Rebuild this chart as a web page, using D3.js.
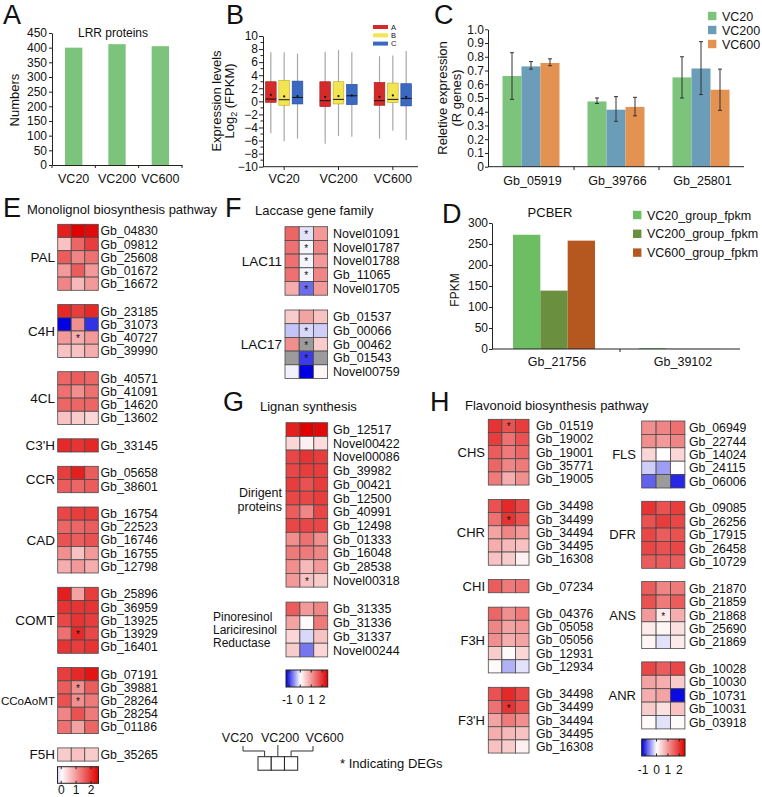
<!DOCTYPE html>
<html><head><meta charset="utf-8">
<script src="https://cdn.jsdelivr.net/npm/d3@7"></script>
<style>
body{margin:0;background:#fff}
svg{display:block}
text{font-family:"Liberation Sans",Arial,Helvetica,sans-serif;fill:#111}
</style>
</head><body>
<svg id="fig" width="762" height="797"></svg>
<script>
// ======================= DATA =======================
// Panel A
const lrrCategories = ["VC20", "VC200", "VC600"];
const lrrValues = [400, 412, 405];
const lrrTicks = [0, 50, 100, 150, 200, 250, 300, 350, 400, 450];

// Panel B: per group, per series [whiskerLow, q1, median, q3, whiskerHigh, mean]
const boxCategories = ["VC20", "VC200", "VC600"];
const boxSeries = ["A", "B", "C"];
const boxVC20 = [[-4.9, -0.15, 0.35, 3.0, 7.5, 1.0], [-6.1, -0.6, 0.25, 3.2, 7.5, 0.75], [-5.7, -0.4, 0.6, 3.1, 7.3, 0.8]];
const boxVC200 = [[-6.5, -0.8, 0.1, 3.0, 7.6, 0.7], [-5.3, -0.4, 0.3, 3.0, 7.9, 0.8], [-5.4, -0.5, 0.85, 2.6, 7.5, 0.9]];
const boxVC600 = [[-5.7, -0.6, 0.1, 2.9, 6.9, 0.7], [-4.5, -0.2, 0.3, 2.8, 7.0, 0.9], [-5.9, -0.7, 0.45, 2.7, 7.7, 0.7]];
const boxTicks = [-10, -8, -6, -4, -2, 0, 2, 4, 6, 8, 10];

// Panel C
const qpcrGenes = ["Gb_05919", "Gb_39766", "Gb_25801"];
const qpcrSeries = ["VC20", "VC200", "VC600"];
const qpcrMean = [[0.66, 0.73, 0.755], [0.475, 0.415, 0.435], [0.65, 0.715, 0.56]];
const qpcrLow = [[0.49, 0.71, 0.735], [0.46, 0.33, 0.37], [0.50, 0.525, 0.41]];
const qpcrHigh = [[0.83, 0.765, 0.785], [0.50, 0.51, 0.505], [0.80, 0.91, 0.71]];
const qpcrTicks = [0, 0.1, 0.2, 0.3, 0.4, 0.5, 0.6, 0.7, 0.8, 0.9, 1.0];

// Panel D
const pcberGenes = ["Gb_21756", "Gb_39102"];
const pcberSeries = ["VC20_group_fpkm", "VC200_group_fpkm", "VC600_group_fpkm"];
const pcberValues = [[272, 139, 258], [2, 0.4, 0.3]];
const pcberTicks = [0, 50, 100, 150, 200, 250, 300];

// Heatmaps: values are z-scores (null = NA), deg = [row, col] of DEG cells
const monolignol = [
  { family: "PAL", genes: ["Gb_04830", "Gb_09812", "Gb_25608", "Gb_01672", "Gb_16672"],
    values: [[2.2, 2.5, 2.4], [0.6, 1.5, 1.9], [1.6, 1.2, 1.4], [1.0, 1.6, 1.0], [1.2, 0.7, 1.0]], deg: [] },
  { family: "C4H", genes: ["Gb_23185", "Gb_31073", "Gb_40727", "Gb_39990"],
    values: [[2.1, 1.9, 2.1], [-1.6, 1.1, -1.05], [1.0, 0.8, 1.0], [0.6, 0.6, 0.8]], deg: [[2, 1]] },
  { family: "4CL", genes: ["Gb_40571", "Gb_41091", "Gb_14620", "Gb_13602"],
    values: [[1.5, 1.6, 1.5], [1.4, 1.1, 1.4], [1.5, 1.5, 1.5], [0.6, 0.5, 0.4]], deg: [] },
  { family: "C3'H", genes: ["Gb_33145"], values: [[2.1, 2.0, 2.1]], deg: [] },
  { family: "CCR", genes: ["Gb_05658", "Gb_38601"], values: [[1.9, 2.2, 1.6], [1.6, 1.5, 1.6]], deg: [] },
  { family: "CAD", genes: ["Gb_16754", "Gb_22523", "Gb_16746", "Gb_16755", "Gb_12798"],
    values: [[1.8, 1.9, 1.9], [1.5, 1.5, 1.6], [1.7, 1.6, 1.7], [1.1, 0.6, 1.0], [0.8, 1.0, 0.8]], deg: [] },
  { family: "COMT", genes: ["Gb_25896", "Gb_36959", "Gb_13925", "Gb_13929", "Gb_16401"],
    values: [[2.2, 0.9, 1.9], [2.0, 2.0, 2.0], [1.8, 2.0, 1.9], [1.4, 2.1, 1.8], [2.0, 1.9, 2.0]], deg: [[3, 1]] },
  { family: "CCoAoMT", genes: ["Gb_07191", "Gb_39881", "Gb_28264", "Gb_28254", "Gb_01186"],
    values: [[1.9, 2.1, 2.3], [1.6, 1.1, 1.6], [1.7, 1.1, 1.3], [1.2, 1.7, 1.3], [1.4, 0.9, 1.5]], deg: [[1, 1], [2, 1]] },
  { family: "F5H", genes: ["Gb_35265"], values: [[0.5, 0.6, 0.5]], deg: [] }
];

const laccase = [
  { family: "LAC11", genes: ["Novel01091", "Novel01787", "Novel01788", "Gb_11065", "Novel01705"],
    values: [[1.5, -0.15, 1.0], [1.4, -0.05, 1.2], [1.4, -0.05, 1.0], [1.4, -0.05, 1.2], [0.8, -0.75, 1.0]],
    deg: [[0, 1], [1, 1], [2, 1], [3, 1], [4, 1]] },
  { family: "LAC17", genes: ["Gb_01537", "Gb_00066", "Gb_00462", "Gb_01543", "Novel00759"],
    values: [[0.5, 0.9, 0.6], [-0.3, -0.2, -0.25], [1.1, null, 0.5], [null, -1.0, null], [-0.07, -1.3, 0.1]],
    deg: [[1, 1], [2, 1], [3, 1]] }
];

const lignan = [
  { family: "Dirigent\nproteins",
    genes: ["Gb_12517", "Novel00422", "Novel00086", "Gb_39982", "Gb_00421", "Gb_12500", "Gb_40991", "Gb_12498", "Gb_01333", "Gb_16048", "Gb_28538", "Novel00318"],
    values: [[2.2, 2.5, 2.4], [0.4, 0.15, 0.35], [1.8, 2.0, 1.9], [1.8, 1.9, 1.9], [1.9, 1.7, 1.9], [1.8, 1.8, 1.9],
             [1.6, 1.2, 1.8], [1.8, 1.8, 1.8], [1.1, 1.4, 1.1], [1.3, 1.3, 1.2], [1.1, 0.7, 1.0], [1.0, 0.6, 0.5]],
    deg: [[11, 1]] },
  { family: "Pinoresinol\nLariciresinol\nReductase", genes: ["Gb_31335", "Gb_31336", "Gb_31337", "Novel00244"],
    values: [[1.6, 1.0, 1.2], [0.9, 0.05, 1.3], [0.4, -0.2, 0.6], [0.5, -0.7, 0.4]], deg: [] }
];

const flavonoidLeft = [
  { family: "CHS", genes: ["Gb_01519", "Gb_19002", "Gb_19001", "Gb_35771", "Gb_19005"],
    values: [[2.0, 1.7, 1.9], [1.9, 1.4, 1.7], [1.6, 1.3, 1.5], [1.5, 1.2, 1.3], [1.3, 0.8, 1.1]], deg: [[0, 1]] },
  { family: "CHR", genes: ["Gb_34498", "Gb_34499", "Gb_34494", "Gb_34495", "Gb_16308"],
    values: [[1.7, 2.1, 1.8], [1.4, 2.0, 1.7], [0.9, 1.2, 1.0], [0.8, 0.7, 0.6], [0.6, 0.5, 0.15]], deg: [[1, 1]] },
  { family: "CHI", genes: ["Gb_07234"], values: [[1.6, 1.3, 1.4]], deg: [] },
  { family: "F3H", genes: ["Gb_04376", "Gb_05058", "Gb_05056", "Gb_12931", "Gb_12934"],
    values: [[1.5, 1.1, 1.3], [1.2, 0.9, 1.0], [1.1, 0.8, 0.9], [0.5, 0.05, 0.4], [0.05, -0.4, -0.15]], deg: [] },
  { family: "F3'H", genes: ["Gb_34498", "Gb_34499", "Gb_34494", "Gb_34495", "Gb_16308"],
    values: [[1.7, 2.1, 1.8], [1.4, 2.0, 1.7], [0.9, 1.3, 1.1], [0.8, 0.7, 0.6], [0.6, 0.5, 0.15]], deg: [[1, 1]] }
];

const flavonoidRight = [
  { family: "FLS", genes: ["Gb_06949", "Gb_22744", "Gb_14024", "Gb_24115", "Gb_06006"],
    values: [[1.1, 1.2, 1.4], [1.1, 1.0, 1.2], [0.4, 0.0, 0.4], [-0.25, -0.5, 0.0], [-0.8, null, -1.1]], deg: [] },
  { family: "DFR", genes: ["Gb_09085", "Gb_26256", "Gb_17915", "Gb_26458", "Gb_10729"],
    values: [[2.0, 1.7, 1.9], [1.7, 1.9, 1.8], [1.8, 1.6, 1.7], [1.8, 1.7, 1.8], [1.6, 1.6, 1.6]], deg: [] },
  { family: "ANS", genes: ["Gb_21870", "Gb_21859", "Gb_21868", "Gb_25690", "Gb_21869"],
    values: [[1.6, 1.2, 1.3], [1.7, 1.3, 1.6], [1.0, 0.2, 0.8], [0.2, 0.1, 0.3], [0.1, -0.15, 0.2]], deg: [[2, 1]] },
  { family: "ANR", genes: ["Gb_10028", "Gb_10030", "Gb_10731", "Gb_10031", "Gb_03918"],
    values: [[1.8, 1.6, 1.8], [0.9, 0.8, 0.5], [0.8, 0.9, -1.25], [0.5, 0.3, 0.6], [0.05, -0.15, 0.05]], deg: [] }
];

const colorbarTicksE = [0, 1, 2];
const colorbarTicks = [-1, 0, 1, 2];
const stageLabels = ["VC20", "VC200", "VC600"];

// ======================= DRAWING =======================
const svg = d3.select("#fig");
svg.append("rect").attr("width", 762).attr("height", 797).attr("fill", "#fff");

function label(g, x, y, s, size, anchor) {
  return g.append("text").attr("x", x).attr("y", y).attr("font-size", size)
    .attr("text-anchor", anchor || "start").text(s);
}
function styleAxis(sel, size) {
  sel.selectAll("path,line").attr("stroke", "#222").attr("stroke-width", 1);
  sel.selectAll("text").attr("font-size", size).attr("fill", "#111")
    .attr("font-family", '"Liberation Sans",Arial,sans-serif');
}

// panel letters
[["A", 3, 24], ["B", 226, 24], ["C", 434, 24], ["D", 442, 223], ["E", 3, 217], ["F", 225, 217], ["G", 223, 411], ["H", 430, 411]]
  .forEach(([s, x, y]) => label(svg, x, y, s, 27));

// ---------- Panel A ----------
{
  const g = svg.append("g");
  const x = d3.scaleBand().domain(lrrCategories).range([52, 182]).paddingInner(0.6).paddingOuter(0.3);
  const y = d3.scaleLinear().domain([0, 450]).range([165, 33]);
  g.selectAll("rect.bar").data(lrrValues).join("rect")
    .attr("x", (d, i) => x(lrrCategories[i])).attr("y", d => y(d))
    .attr("width", x.bandwidth()).attr("height", d => y(0) - y(d)).attr("fill", "#7cc47b");
  const ya = g.append("g").attr("transform", "translate(52,0)")
    .call(d3.axisLeft(y).tickValues(lrrTicks).tickSize(3).tickPadding(2).tickSizeOuter(0));
  styleAxis(ya, 12);
  const xa = g.append("g").attr("transform", "translate(0,165)")
    .call(d3.axisBottom(x).tickSize(0).tickPadding(9).tickSizeOuter(0));
  styleAxis(xa, 12.5);
  const step = x.step();
  [0, 1, 2, 3].forEach(i => {
    const xx = x.range()[0] + i * step;
    g.append("line").attr("x1", xx).attr("x2", xx).attr("y1", 165).attr("y2", 168).attr("stroke", "#222");
  });
  label(g, 113, 37, "LRR proteins", 12, "middle");
  label(g, 0, 0, "Numbers", 13, "middle").attr("transform", "translate(19,100) rotate(-90)");
}

// ---------- Panel B ----------
{
  const g = svg.append("g");
  const x = d3.scaleBand().domain(boxCategories).range([257, 420]);
  const xs = d3.scaleBand().domain(boxSeries).range([-20, 20]).paddingInner(0.2).paddingOuter(0.1);
  const y = d3.scaleLinear().domain([-10, 10]).range([166.7, 36]);
  const colors = { A: "#d52a2a", B: "#f3e552", C: "#3b69c2" };
  const strokes = { A: "#a01818", B: "#b8aa20", C: "#23479a" };
  const groups = [boxVC20, boxVC200, boxVC600];
  d3.range(-9, 10, 2).forEach(v => {
    g.append("line").attr("x1", 263).attr("x2", 260.5).attr("y1", y(v)).attr("y2", y(v)).attr("stroke", "#222");
  });
  const ya = g.append("g").attr("transform", "translate(263,0)")
    .call(d3.axisLeft(y).tickValues(boxTicks).tickSize(4).tickPadding(1).tickSizeOuter(0));
  styleAxis(ya, 12);
  g.append("line").attr("x1", 263).attr("x2", 418).attr("y1", 166.7).attr("y2", 166.7).attr("stroke", "#222");
  boxCategories.forEach((c, gi) => {
    const cx = x(c) + x.bandwidth() / 2;
    g.append("line").attr("x1", cx).attr("x2", cx).attr("y1", 166.7).attr("y2", 170).attr("stroke", "#222");
    label(g, cx, 183, c, 12.5, "middle");
    boxSeries.forEach((s, si) => {
      const st = groups[gi][si];
      const bx = cx + xs(s), bw = xs.bandwidth(), mid = bx + bw / 2;
      g.append("line").attr("x1", mid).attr("x2", mid).attr("y1", y(st[0])).attr("y2", y(st[4]))
        .attr("stroke", "#a8a8a8").attr("stroke-width", 1.2);
      g.append("rect").attr("x", bx).attr("y", y(st[3])).attr("width", bw).attr("height", y(st[1]) - y(st[3]))
        .attr("fill", colors[s]).attr("stroke", strokes[s]).attr("stroke-width", 0.6);
      g.append("line").attr("x1", bx).attr("x2", bx + bw).attr("y1", y(st[2])).attr("y2", y(st[2]))
        .attr("stroke", "#111").attr("stroke-width", 1);
      g.append("circle").attr("cx", mid).attr("cy", y(st[5])).attr("r", 1.1).attr("fill", "#111");
    });
  });
  boxSeries.forEach((s, i) => {
    const ly = 27 + i * 8.3;
    g.append("line").attr("x1", 373).attr("x2", 388).attr("y1", ly).attr("y2", ly)
      .attr("stroke", colors[s]).attr("stroke-width", 4);
    label(g, 391, ly + 2.8, s, 7.5);
  });
  g.append("text").attr("transform", "translate(221,101) rotate(-90)").attr("text-anchor", "middle")
    .attr("font-size", 13).text("Expression levels");
  const t2 = g.append("text").attr("transform", "translate(234,101) rotate(-90)").attr("text-anchor", "middle").attr("font-size", 13);
  t2.append("tspan").text("Log");
  t2.append("tspan").attr("font-size", 9).attr("dy", 3).text("2");
  t2.append("tspan").attr("dy", -3).text(" (FPKM)");
}

// ---------- Panel C ----------
{
  const g = svg.append("g");
  const x = d3.scaleBand().domain(qpcrGenes).range([489, 744]);
  const xs = d3.scaleBand().domain(qpcrSeries).range([-29, 28]);
  const y = d3.scaleLinear().domain([0, 1]).range([166.7, 29.3]);
  const colors = ["#7cc47c", "#6c9db8", "#e39251"];
  qpcrGenes.forEach((gene, gi) => {
    const cx = x(gene) + x.bandwidth() / 2;
    qpcrSeries.forEach((s, si) => {
      const bx = cx + xs(s), bw = xs.bandwidth();
      g.append("rect").attr("x", bx).attr("y", y(qpcrMean[gi][si])).attr("width", bw)
        .attr("height", y(0) - y(qpcrMean[gi][si])).attr("fill", colors[si]);
      const m = bx + bw / 2;
      g.append("line").attr("x1", m).attr("x2", m).attr("y1", y(qpcrLow[gi][si])).attr("y2", y(qpcrHigh[gi][si]))
        .attr("stroke", "#333").attr("stroke-width", 1);
      [qpcrLow[gi][si], qpcrHigh[gi][si]].forEach(v => {
        g.append("line").attr("x1", m - 2).attr("x2", m + 2).attr("y1", y(v)).attr("y2", y(v))
          .attr("stroke", "#333").attr("stroke-width", 1);
      });
    });
    label(g, cx + 1, 185, gene, 12.5, "middle");
  });
  const ya = g.append("g").attr("transform", "translate(488,0)")
    .call(d3.axisLeft(y).tickValues(qpcrTicks).tickSize(3).tickPadding(1).tickSizeOuter(0)
      .tickFormat(d => d === 0 ? "0" : d3.format(".1f")(d)));
  styleAxis(ya, 12);
  g.append("line").attr("x1", 488).attr("x2", 744).attr("y1", 166.7).attr("y2", 166.7).attr("stroke", "#222");
  [1, 2].forEach(i => {
    const xx = x.range()[0] + i * x.step();
    g.append("line").attr("x1", xx).attr("x2", xx).attr("y1", 166.7).attr("y2", 170).attr("stroke", "#222");
  });
  qpcrSeries.forEach((s, i) => {
    const ly = 16 + i * 14;
    g.append("rect").attr("x", 708).attr("y", ly - 4.2).attr("width", 8.4).attr("height", 8.4).attr("fill", colors[i]);
    label(g, 722, ly + 4.5, s, 12.5);
  });
  g.append("text").attr("transform", "translate(447,98) rotate(-90)").attr("text-anchor", "middle")
    .attr("font-size", 13).text("Reletive expression");
  g.append("text").attr("transform", "translate(461,98) rotate(-90)").attr("text-anchor", "middle")
    .attr("font-size", 13).text("(R genes)");
}

// ---------- Panel D ----------
{
  const g = svg.append("g");
  const x = d3.scaleBand().domain(pcberGenes).range([494, 746]);
  const xs = d3.scaleBand().domain(pcberSeries).range([-44, 38]);
  const y = d3.scaleLinear().domain([0, 300]).range([349, 223]);
  const colors = ["#6dbe63", "#698f3f", "#b4581f"];
  pcberGenes.forEach((gene, gi) => {
    const cx = x(gene) + x.bandwidth() / 2;
    pcberSeries.forEach((s, si) => {
      g.append("rect").attr("x", cx + xs(s)).attr("y", y(pcberValues[gi][si])).attr("width", xs.bandwidth())
        .attr("height", y(0) - y(pcberValues[gi][si])).attr("fill", colors[si]);
    });
    label(g, cx, 366, gene, 12.5, "middle");
  });
  const ya = g.append("g").attr("transform", "translate(492,0)")
    .call(d3.axisLeft(y).tickValues(pcberTicks).tickSize(3).tickPadding(1).tickSizeOuter(0));
  styleAxis(ya, 12);
  g.append("line").attr("x1", 492).attr("x2", 740).attr("y1", 349).attr("y2", 349).attr("stroke", "#222");
  const xx = x.range()[0] + x.step();
  g.append("line").attr("x1", xx).attr("x2", xx).attr("y1", 349).attr("y2", 352).attr("stroke", "#222");
  label(g, 550, 217, "PCBER", 13, "middle");
  pcberSeries.forEach((s, i) => {
    const ly = 215 + i * 18.8;
    g.append("rect").attr("x", 633).attr("y", ly - 4.2).attr("width", 8.4).attr("height", 8.4).attr("fill", colors[i]);
    label(g, 647, ly + 4.5, s, 12.5);
  });
  g.append("text").attr("transform", "translate(459,290) rotate(-90)").attr("text-anchor", "middle")
    .attr("font-size", 12).text("FPKM");
}

// ---------- Heatmaps ----------
const heatColor = d3.scaleLinear().domain([-1.3, 0, 2.5]).range(["#0000e0", "#ffffff", "#e00000"]).clamp(true);

function drawHeatmap(blocks, cfg) {
  const g = svg.append("g");
  const xc = d3.scaleBand().domain([0, 1, 2]).range([cfg.x0, cfg.x0 + 3 * cfg.cellW]);
  let top = cfg.top;
  blocks.forEach(b => {
    const n = b.genes.length;
    const yr = d3.scaleBand().domain(d3.range(n)).range([top, top + n * cfg.rowH]);
    b.values.forEach((row, ri) => {
      row.forEach((v, ci) => {
        g.append("rect").attr("x", xc(ci)).attr("y", yr(ri)).attr("width", xc.bandwidth()).attr("height", yr.bandwidth())
          .attr("fill", v === null ? "#9b9b9b" : heatColor(v)).attr("stroke", "#4a4a4a").attr("stroke-width", 0.8);
      });
    });
    b.deg.forEach(([ri, ci]) => {
      g.append("text").attr("x", xc(ci) + xc.bandwidth() / 2).attr("y", yr(ri) + yr.bandwidth() / 2 + 4.5)
        .attr("text-anchor", "middle").attr("font-size", 10).attr("fill", "#222").text("*");
    });
    b.genes.forEach((gene, ri) => {
      g.append("text").attr("x", cfg.labelX).attr("y", yr(ri) + yr.bandwidth() / 2 + cfg.fs * 0.36)
        .attr("font-size", cfg.fs).text(gene);
    });
    const lines = b.family.split("\n");
    const cy = top + n * cfg.rowH / 2;
    let famSize = cfg.famFs, lh = cfg.famFs, fx = cfg.famX, anchor = "end", off = 0;
    if (b.family === "CCoAoMT") famSize = 11.6;
    if (lines.length === 2) { famSize = 12.5; lh = 14; off = -5; }
    if (lines.length > 2) { famSize = 12; lh = 13; fx = cfg.famLeftX; anchor = "start"; }
    lines.forEach((ln, li) => {
      g.append("text").attr("x", fx).attr("text-anchor", anchor)
        .attr("y", cy + off + (li - (lines.length - 1) / 2) * lh + famSize * 0.36)
        .attr("font-size", famSize).text(ln);
    });
    top += n * cfg.rowH + cfg.gap;
  });
  return g;
}

function drawColorbar(x0, y0, w, h, domain, ticks, id, labelY) {
  const grad = svg.append("defs").append("linearGradient").attr("id", id);
  d3.range(0, 1.0001, 0.05).forEach(t => {
    const v = domain[0] + t * (domain[1] - domain[0]);
    grad.append("stop").attr("offset", t).attr("stop-color", heatColor(v));
  });
  const s = d3.scaleLinear().domain(domain).range([x0, x0 + w]);
  svg.append("rect").attr("x", x0).attr("y", y0).attr("width", w).attr("height", h)
    .attr("fill", `url(#${id})`).attr("stroke", "#222").attr("stroke-width", 1);
  ticks.forEach(t => {
    svg.append("line").attr("x1", s(t)).attr("x2", s(t)).attr("y1", y0).attr("y2", y0 + 2.5).attr("stroke", "#222");
    svg.append("line").attr("x1", s(t)).attr("x2", s(t)).attr("y1", y0 + h).attr("y2", y0 + h - 2.5).attr("stroke", "#222");
    svg.append("text").attr("x", s(t) - (t < 0 ? 2 : 0)).attr("y", labelY).attr("text-anchor", "middle")
      .attr("font-size", 12).text(t);
  });
}

// Panel E
label(svg, 27, 214, "Monolignol biosynthesis pathway", 13);
drawHeatmap(monolignol, { x0: 57.7, cellW: 13.53, top: 224.3, rowH: 13.2, gap: 14.3, labelX: 100.5, fs: 12.3, famX: 55, famFs: 13.5 });
drawColorbar(57.5, 766.7, 41, 16.6, [-0.25, 2.5], colorbarTicksE, "cbE", 794);

// Panel F
label(svg, 255, 215, "Laccase gene family", 13);
drawHeatmap(laccase, { x0: 285, cellW: 14.2, top: 226.7, rowH: 13.7, gap: 14.8, labelX: 333, fs: 12.5, famX: 282, famFs: 13.5 });

// Panel G
label(svg, 260, 411, "Lignan synthesis", 13);
drawHeatmap(lignan, { x0: 286, cellW: 13.9, top: 422.7, rowH: 13.7, gap: 15, labelX: 333, fs: 12.5, famX: 282, famLeftX: 213, famFs: 13 });
drawColorbar(286, 670, 41.7, 17, [-1.3, 2.5], colorbarTicks, "cbG", 704);

// stage schematic
{
  const g = svg.append("g");
  const bx = d3.scaleBand().domain(stageLabels).range([258, 297.7]);
  stageLabels.forEach(s => {
    g.append("rect").attr("x", bx(s)).attr("y", 756.7).attr("width", bx.bandwidth()).attr("height", 13.5)
      .attr("fill", "#fff").attr("stroke", "#222").attr("stroke-width", 1);
  });
  const c = s => bx(s) + bx.bandwidth() / 2;
  const ln = (x1, y1, x2, y2) => g.append("line").attr("x1", x1).attr("y1", y1).attr("x2", x2).attr("y2", y2)
    .attr("stroke", "#333").attr("stroke-width", 1);
  ln(243, 746, 243, 751); ln(243, 751, c("VC20"), 751); ln(c("VC20"), 751, c("VC20"), 756.7);
  ln(c("VC200"), 745, c("VC200"), 756.7);
  ln(c("VC600"), 756.7, c("VC600"), 751); ln(c("VC600"), 751, 313, 751); ln(313, 751, 313, 746);
  label(g, 237.5, 742, "VC20", 12.5, "middle");
  label(g, 280, 742, "VC200", 12.5, "middle");
  label(g, 324.5, 742, "VC600", 12.5, "middle");
  label(g, 340, 768, "* Indicating DEGs", 13);
}

// Panel H
label(svg, 465, 410, "Flavonoid biosynthesis pathway", 13);
drawHeatmap(flavonoidLeft, { x0: 488.3, cellW: 13.57, top: 419.3, rowH: 13.15, gap: 14.4, labelX: 536, fs: 12.3, famX: 485, famFs: 13 });
drawHeatmap(flavonoidRight, { x0: 641.7, cellW: 14.4, top: 421, rowH: 13.4, gap: 13.3, labelX: 689, fs: 12.3, famX: 636, famFs: 13 });
drawColorbar(641.7, 739, 43.3, 17, [-1.3, 2.5], colorbarTicks, "cbH", 774);
</script>
</body></html>
